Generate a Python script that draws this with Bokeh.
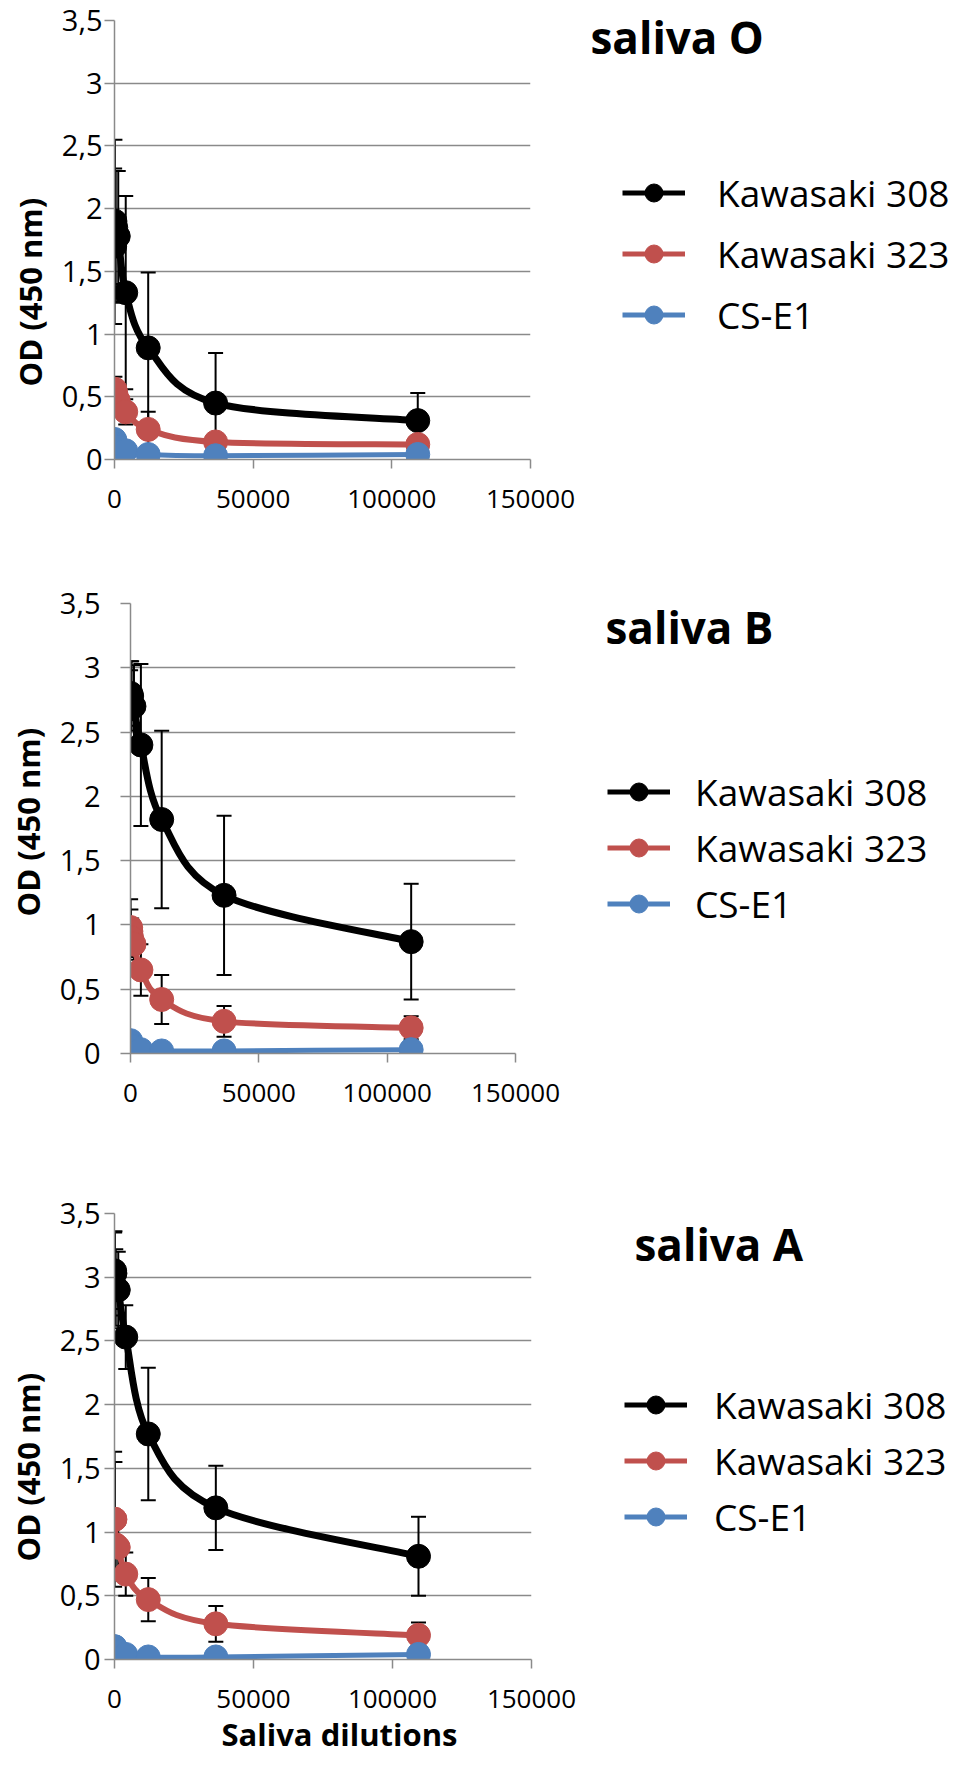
import math
from bokeh.plotting import figure
from bokeh.models import (ColumnDataSource, FixedTicker, Whisker, TeeHead, Label,
                          Legend, LegendItem, Title)
from bokeh.layouts import column, row
from bokeh.embed import file_html
from bokeh.resources import INLINE

# ---------------- data ----------------
dilutions = [50, 150, 450, 1350, 4050, 12150, 36450, 109350]
series_names = ["Kawasaki 308", "Kawasaki 323", "CS-E1"]
panel_titles = ["saliva O", "saliva B", "saliva A"]
y_axis_title = "OD (450 nm)"
x_axis_title = "Saliva dilutions"

y_ticks = [0, 0.5, 1, 1.5, 2, 2.5, 3, 3.5]
y_tick_labels = ["0", "0,5", "1", "1,5", "2", "2,5", "3", "3,5"]
x_ticks = [0, 50000, 100000, 150000]
x_tick_labels = ["0", "50000", "100000", "150000"]

# saliva O
o_k308 = [1.70, 1.90, 1.85, 1.78, 1.33, 0.89, 0.45, 0.31]
o_k308_sd = [0.62, 0.65, 0.45, 0.52, 0.77, 0.60, 0.40, 0.22]
o_k323 = [0.52, 0.56, 0.53, 0.47, 0.38, 0.24, 0.14, 0.12]
o_k323_sd = [0.08, 0.10, 0.08, 0.08, 0.10, 0.14, 0.06, 0.05]
o_cse1 = [0.16, 0.15, 0.12, 0.10, 0.07, 0.04, 0.03, 0.04]
o_cse1_sd = [0.03, 0.03, 0.02, 0.02, 0.02, 0.01, 0.01, 0.01]

# saliva B
b_k308 = [2.68, 2.80, 2.78, 2.70, 2.40, 1.82, 1.23, 0.87]
b_k308_sd = [0.30, 0.25, 0.27, 0.32, 0.63, 0.69, 0.62, 0.45]
b_k323 = [0.98, 0.95, 0.90, 0.85, 0.65, 0.42, 0.25, 0.20]
b_k323_sd = [0.22, 0.17, 0.15, 0.12, 0.20, 0.19, 0.12, 0.09]
b_cse1 = [0.10, 0.08, 0.06, 0.05, 0.03, 0.02, 0.02, 0.03]
b_cse1_sd = [0.02, 0.02, 0.01, 0.01, 0.01, 0.01, 0.01, 0.01]

# saliva A
a_k308 = [3.05, 3.03, 2.92, 2.90, 2.53, 1.77, 1.19, 0.81]
a_k308_sd = [0.30, 0.33, 0.30, 0.30, 0.25, 0.52, 0.33, 0.31]
a_k323 = [1.10, 1.10, 0.90, 0.88, 0.67, 0.47, 0.28, 0.19]
a_k323_sd = [0.53, 0.45, 0.20, 0.18, 0.17, 0.17, 0.14, 0.10]
a_cse1 = [0.10, 0.10, 0.08, 0.06, 0.04, 0.02, 0.02, 0.04]
a_cse1_sd = [0.02, 0.02, 0.02, 0.01, 0.01, 0.01, 0.01, 0.01]

panels_values = [
    [(o_k308, o_k308_sd), (o_k323, o_k323_sd), (o_cse1, o_cse1_sd)],
    [(b_k308, b_k308_sd), (b_k323, b_k323_sd), (b_cse1, b_cse1_sd)],
    [(a_k308, a_k308_sd), (a_k323, a_k323_sd), (a_cse1, a_cse1_sd)],
]

# ---------------- styles / layout ----------------
colors = ["#000000", "#C0504D", "#4F81BD"]
line_widths = [7, 6, 5]
FONT = "Open Sans"
GRID = "#8a8a8a"
SPLIT = 585          # page x where the legend column starts
PAGE_RIGHT = 967
YLAB_LEN = 176       # approx. length of the rotated y title, px

# page-pixel layout of each panel
layouts = [
    dict(top=8, bottom=540, f_top=28, f_bottom=467, f_left=122, f_right=538,
         title_x=598, title_base=44, ylab_cy=306, legend_left=630, legend_top=178,
         spacing=10, standoff_lab=32, tick_standoff=2),
    dict(top=540, bottom=1137, f_top=611, f_bottom=1061, f_left=135, f_right=523,
         title_x=613, title_base=634, ylab_cy=836, legend_left=615, legend_top=777,
         spacing=5, standoff_lab=25, tick_standoff=20),
    dict(top=1137, bottom=1765, f_top=1221, f_bottom=1667, f_left=120, f_right=539,
         title_x=642, title_base=1251, ylab_cy=1481, legend_left=632, legend_top=1390,
         spacing=5, standoff_lab=27, tick_standoff=4),
]


def smooth_segments(xs, ys):
    """Bezier control points (Excel-like smoothing) between consecutive points."""
    n = len(xs)
    d = dict(x0=[], y0=[], x1=[], y1=[], cx0=[], cy0=[], cx1=[], cy1=[])
    for i in range(n - 1):
        xm, ym = (xs[i - 1], ys[i - 1]) if i > 0 else (xs[i], ys[i])
        xp, yp = (xs[i + 2], ys[i + 2]) if i + 2 < n else (xs[i + 1], ys[i + 1])
        d["x0"].append(xs[i]); d["y0"].append(ys[i])
        d["x1"].append(xs[i + 1]); d["y1"].append(ys[i + 1])
        d["cx0"].append(xs[i] + (xs[i + 1] - xm) / 6.0)
        d["cy0"].append(ys[i] + (ys[i + 1] - ym) / 6.0)
        d["cx1"].append(xs[i + 1] - (xp - xs[i]) / 6.0)
        d["cy1"].append(ys[i + 1] - (yp - ys[i]) / 6.0)
    return d


def y_label_key(t):
    return int(t) if float(t).is_integer() else t


NAN = float("nan")
rows = []
for k, (lay, values) in enumerate(zip(layouts, panels_values)):
    h = lay["bottom"] - lay["top"]
    b_top = lay["f_top"] - lay["top"]
    b_bot = lay["bottom"] - lay["f_bottom"]
    p = figure(width=SPLIT - 8, height=h, output_backend="svg", toolbar_location=None,
               title=None, x_range=(0, 150000), y_range=(0, 3.5),
               min_border_left=lay["f_left"] - 8,
               min_border_right=SPLIT - lay["f_right"],
               min_border_top=b_top, min_border_bottom=b_bot)
    p.outline_line_color = None
    p.background_fill_color = "white"
    p.border_fill_color = "white"

    # axes
    p.xaxis.ticker = FixedTicker(ticks=x_ticks)
    p.xaxis.major_label_overrides = {t: s for t, s in zip(x_ticks, x_tick_labels)}
    p.yaxis.ticker = FixedTicker(ticks=y_ticks)
    p.yaxis.major_label_overrides = {y_label_key(t): s for t, s in zip(y_ticks, y_tick_labels)}
    for ax in (p.xaxis, p.yaxis):
        ax.axis_line_color = GRID
        ax.axis_line_width = 1.5
        ax.major_tick_line_color = GRID
        ax.major_tick_line_width = 1.5
        ax.major_tick_in = 0
        ax.minor_tick_line_color = None
        ax.major_label_text_font = FONT
        ax.major_label_text_color = "#000000"
    p.xaxis.major_tick_out = 9
    p.yaxis.major_tick_out = 10
    p.xaxis.major_label_text_font_size = "26px"
    p.yaxis.major_label_text_font_size = "29px"
    p.xaxis.major_label_standoff = 21
    p.yaxis.major_label_standoff = lay["tick_standoff"]

    p.xgrid.visible = False
    p.ygrid.ticker = FixedTicker(ticks=y_ticks)
    p.ygrid.grid_line_color = GRID
    p.ygrid.grid_line_width = 1.5

    # y axis title (left side panel)
    p.add_layout(Title(text=y_axis_title, align="left", vertical_align="top",
                       offset=lay["f_bottom"] - (lay["ylab_cy"] + YLAB_LEN / 2),
                       standoff=12,
                       text_font=FONT, text_font_style="bold", text_font_size="31px",
                       text_color="#000000"), "left")
    if k == 2:
        p.add_layout(Title(text=x_axis_title, align="left", offset=227 - lay["f_left"],
                           standoff=0, text_font=FONT, text_font_style="bold",
                           text_font_size="31px", text_color="#000000"), "below")

    # error bars
    for s_i, (vals, sds) in enumerate(values):
        esrc = ColumnDataSource(dict(x=dilutions,
                                     lo=[v - e for v, e in zip(vals, sds)],
                                     hi=[v + e for v, e in zip(vals, sds)]))
        p.add_layout(Whisker(source=esrc, base="x", lower="lo", upper="hi",
                             dimension="height", line_color="black", line_width=2,
                             level="underlay",
                             upper_head=TeeHead(size=15, line_color="black", line_width=2),
                             lower_head=TeeHead(size=15, line_color="black", line_width=2)))
    # smoothed lines
    for s_i, (vals, sds) in enumerate(values):
        bsrc = ColumnDataSource(smooth_segments(dilutions, vals))
        p.bezier(x0="x0", y0="y0", x1="x1", y1="y1", cx0="cx0", cy0="cy0",
                 cx1="cx1", cy1="cy1", source=bsrc, line_color=colors[s_i],
                 line_width=line_widths[s_i], line_cap="round")
    # markers
    for s_i, (vals, sds) in enumerate(values):
        msrc = ColumnDataSource(dict(x=dilutions, y=vals))
        p.scatter(x="x", y="y", source=msrc, marker="circle", size=24,
                  fill_color=colors[s_i], line_color=colors[s_i])

    # ----- side figure: panel title + legend; its frame bottom = main frame bottom -----
    s = figure(width=PAGE_RIGHT - SPLIT, height=h, output_backend="svg",
               toolbar_location=None, title=None, x_range=(0, 1), y_range=(0, 1),
               x_axis_type=None, y_axis_type=None,
               min_border_left=0, min_border_right=0,
               min_border_top=0, min_border_bottom=b_bot)
    s.outline_line_color = None
    s.background_fill_color = "white"
    s.border_fill_color = "white"
    items = []
    for s_i, name in enumerate(series_names):
        # legend proxies (no visible point of their own)
        lr = s.line(x=[NAN], y=[NAN], line_color=colors[s_i], line_width=5)
        mr = s.scatter(x=[NAN], y=[NAN], marker="circle", size=24,
                       fill_color=colors[s_i], line_color=colors[s_i])
        items.append(LegendItem(label=name, renderers=[lr, mr]))
    leg_h_est = 3 * 50 + 2 * lay["spacing"]
    legend = Legend(items=items,
                    location=(lay["legend_left"] - SPLIT,
                              lay["f_bottom"] - (lay["legend_top"] + leg_h_est)),
                    orientation="vertical", padding=0, margin=0,
                    spacing=lay["spacing"], glyph_width=63, glyph_height=45,
                    label_standoff=lay["standoff_lab"], label_text_font=FONT,
                    label_text_font_size="37px", label_text_color="#000000",
                    border_line_color=None, background_fill_alpha=0)
    s.add_layout(legend)
    s.add_layout(Label(x=lay["title_x"] - SPLIT, y=lay["f_bottom"] - lay["title_base"],
                       x_units="screen", y_units="screen", text=panel_titles[k],
                       text_font=FONT, text_font_style="bold", text_font_size="44px",
                       text_align="left", text_baseline="alphabetic",
                       text_color="#000000"))
    rows.append(row(p, column(s, spacing=0), spacing=0))

layout = column(*rows, spacing=0)
open("out.html", "w").write(file_html(layout, INLINE))
